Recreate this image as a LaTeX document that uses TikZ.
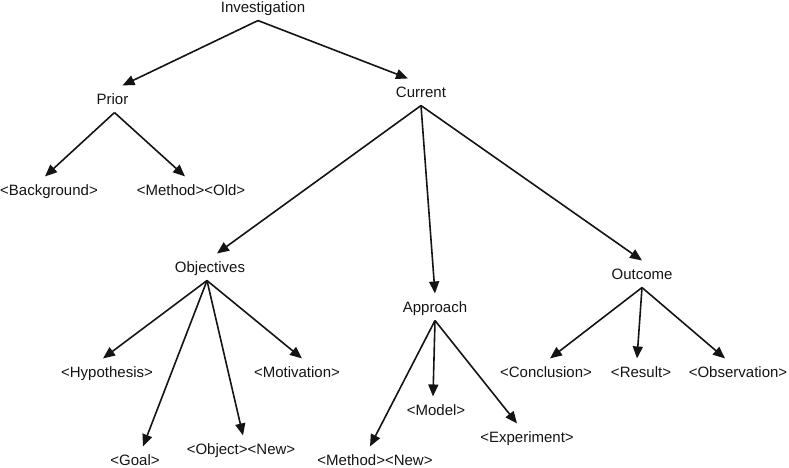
\documentclass[tikz,border=0pt]{standalone}
\usepackage{fontspec}
\setmainfont{Liberation Sans}
\usetikzlibrary{arrows.meta}
\definecolor{ink}{RGB}{20,20,20}

\begin{document}
\begin{tikzpicture}[x=1pt, y=-1pt,
    term/.style={font=\fontsize{15}{18}\selectfont, text=ink, inner xsep=2pt, inner ysep=8pt, text height=10.7pt, text depth=0pt},
    link/.style={-{Triangle[length=12pt, width=10pt]}, line width=1.6pt, ink}]
  \useasboundingbox (0,0) rectangle (789,468);
  % top levels
  \node[term] (inv) at (263,7) {Investigation};
  \node[term] (prior) at (112.5,99) {Prior};
  \node[term] (current) at (421,92) {Current};
  \node[term] (bg) at (49,190) {<Background>};
  \node[term] (mold) at (191,190) {<Method><Old>};
  \node[term] (obj) at (210,267) {Objectives};
  \node[term] (appr) at (435,307) {Approach};
  \node[term] (outc) at (642,274) {Outcome};
  % leaves
  \node[term] (hyp) at (107,372) {<Hypothesis>};
  \node[term] (goal) at (135,460) {<Goal>};
  \node[term] (objnew) at (241,449) {<Object><New>};
  \node[term] (motiv) at (297,372) {<Motivation>};
  \node[term] (mnew) at (375,460) {<Method><New>};
  \node[term] (model) at (436,410) {<Model>};
  \node[term] (exper) at (527,437) {<Experiment>};
  \node[term] (concl) at (546,372) {<Conclusion>};
  \node[term] (result) at (641,372) {<Result>};
  \node[term] (observ) at (738,372) {<Observation>};
  % edges
  \draw[link] ([xshift=-5pt]inv.south) -- ([xshift=10pt]prior.north);
  \draw[link] ([xshift=-5pt]inv.south) -- ([xshift=-13pt]current.north);
  \draw[link] ([xshift=2pt]prior.south) -- ([xshift=-4pt]bg.north);
  \draw[link] ([xshift=2pt]prior.south) -- ([xshift=-6pt]mold.north);
  \draw[link] (current.south) -- ([xshift=7pt]obj.north);
  \draw[link] (current.south) -- (appr.north);
  \draw[link] (current.south) -- (outc.north);
  \draw[link] ([xshift=-3pt]obj.south) -- ([xshift=-4pt]hyp.north);
  \draw[link] ([xshift=-3pt]obj.south) -- ([xshift=8pt]goal.north);
  \draw[link] ([xshift=-3pt]obj.south) -- ([xshift=2pt]objnew.north);
  \draw[link] ([xshift=-3pt]obj.south) -- ([xshift=5pt]motiv.north);
  \draw[link] (appr.south) -- ([xshift=-5pt]mnew.north);
  \draw[link] (appr.south) -- ([xshift=-3pt]model.north);
  \draw[link] (appr.south) -- ([xshift=-10pt]exper.north);
  \draw[link] (outc.south) -- ([xshift=4pt]concl.north);
  \draw[link] (outc.south) -- ([xshift=-4pt]result.north);
  \draw[link] (outc.south) -- ([xshift=-13pt]observ.north);
\end{tikzpicture}
\end{document}
